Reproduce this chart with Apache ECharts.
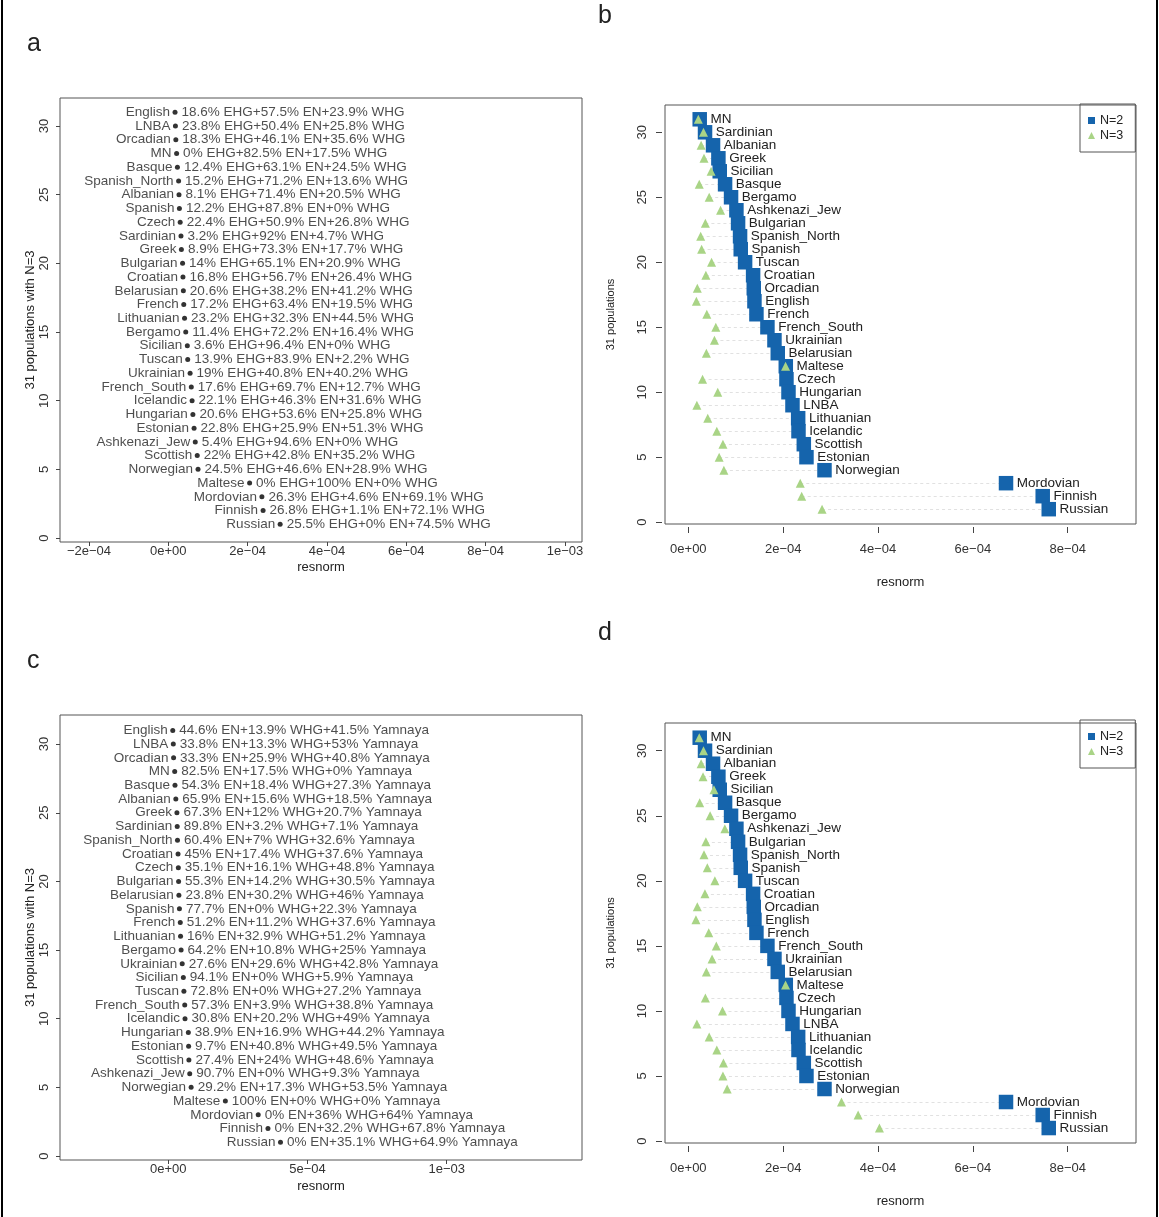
<!DOCTYPE html>
<html>
<head>
<meta charset="utf-8">
<title>resnorm</title>
<script src="https://cdn.jsdelivr.net/npm/echarts@6/dist/echarts.min.js"></script>
<style>
  html, body { margin: 0; padding: 0; background: #fff; }
  #chart { width: 1159px; height: 1217px; }
</style>
</head>
<body>
<div id="chart"></div>
<script>
// populations, order of panels b and d (top -> bottom)
const popsB = ['MN', 'Sardinian', 'Albanian', 'Greek', 'Sicilian', 'Basque', 'Bergamo', 'Ashkenazi_Jew',
  'Bulgarian', 'Spanish_North', 'Spanish', 'Tuscan', 'Croatian', 'Orcadian', 'English', 'French',
  'French_South', 'Ukrainian', 'Belarusian', 'Maltese', 'Czech', 'Hungarian', 'LNBA', 'Lithuanian',
  'Icelandic', 'Scottish', 'Estonian', 'Norwegian', 'Mordovian', 'Finnish', 'Russian'];
// resnorm with N=2 (x1e-5)
const n2 = [2.40, 3.52, 5.21, 6.34, 6.62, 7.75, 9.01, 10.14, 10.49, 10.91, 11.05, 11.97, 13.66, 13.80,
  13.94, 14.36, 16.68, 18.16, 18.86, 20.55, 20.69, 21.12, 21.96, 23.16, 23.23, 24.35, 24.91, 28.71,
  66.99, 74.73, 76.00];
// resnorm with N=3, EHG/EN/WHG (x1e-5)
const n3Ehg = [2.1, 3.2, 2.7, 3.3, 4.8, 2.3, 4.4, 6.8, 3.6, 2.6, 2.8, 4.9, 3.7, 1.9, 1.7, 3.9,
  5.8, 5.5, 3.8, 20.5, 3.0, 6.2, 1.8, 4.1, 6.0, 7.3, 6.5, 7.5, 23.6, 23.9, 28.2];
// resnorm with N=3, EN/WHG/Yamnaya (x1e-5)
const n3Yam = [2.3, 3.2, 2.7, 3.1, 5.4, 2.4, 4.6, 7.7, 3.7, 3.3, 4.0, 5.6, 3.5, 1.9, 1.6, 4.3,
  5.9, 5.0, 3.8, 20.5, 3.6, 7.2, 1.8, 4.4, 6.0, 7.4, 7.3, 8.2, 32.3, 35.8, 40.3];

// panel a
const popsA = ['English', 'LNBA', 'Orcadian', 'MN', 'Basque', 'Spanish_North', 'Albanian', 'Spanish',
  'Czech', 'Sardinian', 'Greek', 'Bulgarian', 'Croatian', 'Belarusian', 'French', 'Lithuanian',
  'Bergamo', 'Sicilian', 'Tuscan', 'Ukrainian', 'French_South', 'Icelandic', 'Hungarian', 'Estonian',
  'Ashkenazi_Jew', 'Scottish', 'Norwegian', 'Maltese', 'Mordovian', 'Finnish', 'Russian'];
const mixA = ['18.6% EHG+57.5% EN+23.9% WHG', '23.8% EHG+50.4% EN+25.8% WHG', '18.3% EHG+46.1% EN+35.6% WHG',
  '0% EHG+82.5% EN+17.5% WHG', '12.4% EHG+63.1% EN+24.5% WHG', '15.2% EHG+71.2% EN+13.6% WHG',
  '8.1% EHG+71.4% EN+20.5% WHG', '12.2% EHG+87.8% EN+0% WHG', '22.4% EHG+50.9% EN+26.8% WHG',
  '3.2% EHG+92% EN+4.7% WHG', '8.9% EHG+73.3% EN+17.7% WHG', '14% EHG+65.1% EN+20.9% WHG',
  '16.8% EHG+56.7% EN+26.4% WHG', '20.6% EHG+38.2% EN+41.2% WHG', '17.2% EHG+63.4% EN+19.5% WHG',
  '23.2% EHG+32.3% EN+44.5% WHG', '11.4% EHG+72.2% EN+16.4% WHG', '3.6% EHG+96.4% EN+0% WHG',
  '13.9% EHG+83.9% EN+2.2% WHG', '19% EHG+40.8% EN+40.2% WHG', '17.6% EHG+69.7% EN+12.7% WHG',
  '22.1% EHG+46.3% EN+31.6% WHG', '20.6% EHG+53.6% EN+25.8% WHG', '22.8% EHG+25.9% EN+51.3% WHG',
  '5.4% EHG+94.6% EN+0% WHG', '22% EHG+42.8% EN+35.2% WHG', '24.5% EHG+46.6% EN+28.9% WHG',
  '0% EHG+100% EN+0% WHG', '26.3% EHG+4.6% EN+69.1% WHG', '26.8% EHG+1.1% EN+72.1% WHG',
  '25.5% EHG+0% EN+74.5% WHG'];

// panel c
const popsC = ['English', 'LNBA', 'Orcadian', 'MN', 'Basque', 'Albanian', 'Greek', 'Sardinian',
  'Spanish_North', 'Croatian', 'Czech', 'Bulgarian', 'Belarusian', 'Spanish', 'French', 'Lithuanian',
  'Bergamo', 'Ukrainian', 'Sicilian', 'Tuscan', 'French_South', 'Icelandic', 'Hungarian', 'Estonian',
  'Scottish', 'Ashkenazi_Jew', 'Norwegian', 'Maltese', 'Mordovian', 'Finnish', 'Russian'];
const mixC = ['44.6% EN+13.9% WHG+41.5% Yamnaya', '33.8% EN+13.3% WHG+53% Yamnaya',
  '33.3% EN+25.9% WHG+40.8% Yamnaya', '82.5% EN+17.5% WHG+0% Yamnaya', '54.3% EN+18.4% WHG+27.3% Yamnaya',
  '65.9% EN+15.6% WHG+18.5% Yamnaya', '67.3% EN+12% WHG+20.7% Yamnaya', '89.8% EN+3.2% WHG+7.1% Yamnaya',
  '60.4% EN+7% WHG+32.6% Yamnaya', '45% EN+17.4% WHG+37.6% Yamnaya', '35.1% EN+16.1% WHG+48.8% Yamnaya',
  '55.3% EN+14.2% WHG+30.5% Yamnaya', '23.8% EN+30.2% WHG+46% Yamnaya', '77.7% EN+0% WHG+22.3% Yamnaya',
  '51.2% EN+11.2% WHG+37.6% Yamnaya', '16% EN+32.9% WHG+51.2% Yamnaya', '64.2% EN+10.8% WHG+25% Yamnaya',
  '27.6% EN+29.6% WHG+42.8% Yamnaya', '94.1% EN+0% WHG+5.9% Yamnaya', '72.8% EN+0% WHG+27.2% Yamnaya',
  '57.3% EN+3.9% WHG+38.8% Yamnaya', '30.8% EN+20.2% WHG+49% Yamnaya', '38.9% EN+16.9% WHG+44.2% Yamnaya',
  '9.7% EN+40.8% WHG+49.5% Yamnaya', '27.4% EN+24% WHG+48.6% Yamnaya', '90.7% EN+0% WHG+9.3% Yamnaya',
  '29.2% EN+17.3% WHG+53.5% Yamnaya', '100% EN+0% WHG+0% Yamnaya', '0% EN+36% WHG+64% Yamnaya',
  '0% EN+32.2% WHG+67.8% Yamnaya', '0% EN+35.1% WHG+64.9% Yamnaya'];

// axis ticks
const ticksA = [-2e-4, 0, 2e-4, 4e-4, 6e-4, 8e-4, 1e-3];
const tickLabelsA = ['\u22122e\u221204', '0e+00', '2e\u221204', '4e\u221204', '6e\u221204', '8e\u221204', '1e\u221203'];
const ticksB = [0, 2e-4, 4e-4, 6e-4, 8e-4];
const tickLabelsB = ['0e+00', '2e\u221204', '4e\u221204', '6e\u221204', '8e\u221204'];
const ticksC = [0, 5e-4, 1e-3];
const tickLabelsC = ['0e+00', '5e\u221204', '1e\u221203'];
const yTicks = [0, 5, 10, 15, 20, 25, 30];

const BLUE = '#1564AC';
const GREEN = '#A9D486';
const FONT = 'Liberation Sans, Arial, sans-serif';
const E5 = 1e-5;

const chart = echarts.init(document.getElementById('chart'));

function pick(ticks, labels) {
  return function (v) {
    let k = 0, best = Infinity;
    ticks.forEach(function (t, i) {
      const d = Math.abs(t - v);
      if (d < best) { best = d; k = i; }
    });
    return labels[k];
  };
}

function xAxis(idx, min, max, ticks, labels, o) {
  return {
    type: 'value', gridIndex: idx, min: min, max: max, offset: o.offset || 0,
    name: 'resnorm', nameLocation: 'middle', nameGap: o.nameGap,
    nameTextStyle: { fontSize: 13, color: '#222' },
    splitLine: { show: false },
    axisLine: { show: false, onZero: false },
    axisTick: { show: true, customValues: ticks, length: o.tick, lineStyle: { color: '#444' } },
    axisLabel: { customValues: ticks, formatter: pick(ticks, labels), margin: o.margin, fontSize: 13, color: '#333' }
  };
}

function yAxis(idx, min, max, name, o) {
  return {
    type: 'value', gridIndex: idx, min: min, max: max, offset: o.offset || 0,
    name: name, nameLocation: 'middle', nameGap: o.nameGap,
    nameTextStyle: { fontSize: o.nameSize, color: '#222' },
    splitLine: { show: false },
    axisLine: { show: false, onZero: false },
    axisTick: { show: true, customValues: yTicks, length: o.tick, lineStyle: { color: '#444' } },
    axisLabel: { customValues: yTicks, rotate: 90, margin: o.margin, fontSize: 13, color: '#333' }
  };
}

// value of a population, looked up in the panel b order
function valOf(arr, p) { return arr[popsB.indexOf(p)] * E5; }

function mixSeries(idx, pops, mix, arr) {
  const pts = pops.map(function (p, i) { return [valOf(arr, p), 31 - i, p, mix[i]]; });
  return [{
    type: 'scatter', xAxisIndex: idx, yAxisIndex: idx, symbol: 'circle', symbolSize: 5,
    itemStyle: { color: '#000' }, silent: true, data: pts,
    label: { show: true, position: 'left', distance: 2.5, fontSize: 13.5, color: '#222',
      formatter: function (d) { return d.data[2]; } }
  }, {
    type: 'scatter', xAxisIndex: idx, yAxisIndex: idx, symbol: 'circle', symbolSize: 5,
    itemStyle: { color: 'transparent' }, silent: true, data: pts,
    label: { show: true, position: 'right', distance: 4, fontSize: 13.5, color: '#222',
      formatter: function (d) { return d.data[3]; } }
  }];
}

function pairSeries(idx, arr3) {
  return [{
    type: 'lines', coordinateSystem: 'cartesian2d', xAxisIndex: idx, yAxisIndex: idx, silent: true, z: 1,
    lineStyle: { color: '#c4c4c4', width: 1, type: [3, 3] },
    data: popsB.map(function (p, i) { return { coords: [[arr3[i] * E5, 31 - i], [n2[i] * E5, 31 - i]] }; })
  }, {
    name: 'N=2', type: 'scatter', xAxisIndex: idx, yAxisIndex: idx, symbol: 'rect', symbolSize: 14.5, z: 2,
    itemStyle: { color: BLUE, opacity: 1 }, silent: true,
    data: popsB.map(function (p, i) { return [n2[i] * E5, 31 - i, p]; }),
    label: { show: true, position: 'right', distance: 3.5, fontSize: 13.5, color: '#222',
      formatter: function (d) { return d.data[2]; } }
  }, {
    name: 'N=3', type: 'scatter', xAxisIndex: idx, yAxisIndex: idx, symbol: 'triangle', symbolSize: 9, z: 3,
    itemStyle: { color: GREEN, opacity: 1 }, silent: true,
    data: popsB.map(function (p, i) { return [arr3[i] * E5, 31 - i]; })
  }];
}

function legend(top) {
  return {
    orient: 'vertical', left: 1080, top: top, itemWidth: 7, itemHeight: 7, itemGap: 2,
    padding: [10, 12, 10, 8], borderColor: '#555', borderWidth: 1, selectedMode: false,
    textStyle: { fontSize: 12.5, color: '#222' },
    data: [{ name: 'N=2', icon: 'rect' }, { name: 'N=3', icon: 'triangle' }]
  };
}

const gridStyle = { show: true, borderColor: '#555', borderWidth: 1 };

chart.setOption({
  animation: false,
  textStyle: { fontFamily: FONT },
  grid: [
    Object.assign({ left: 60, top: 98, width: 522, height: 444 }, gridStyle),
    Object.assign({ left: 665, top: 105, width: 471, height: 419 }, gridStyle),
    Object.assign({ left: 60, top: 715, width: 522, height: 445 }, gridStyle),
    Object.assign({ left: 665, top: 723, width: 471, height: 420 }, gridStyle)
  ],
  legend: [legend(104), legend(720)],
  xAxis: [
    xAxis(0, -2.73e-4, 1.043e-3, ticksA, tickLabelsA, { tick: 4, margin: 3, nameGap: 19 }),
    xAxis(1, -4.92e-5, 9.44e-4, ticksB, tickLabelsB, { tick: 6, margin: 16, nameGap: 49, offset: 3 }),
    xAxis(2, -3.89e-4, 1.486e-3, ticksC, tickLabelsC, { tick: 4, margin: 3, nameGap: 20 }),
    xAxis(3, -4.92e-5, 9.44e-4, ticksB, tickLabelsB, { tick: 6, margin: 16, nameGap: 49, offset: 3 })
  ],
  yAxis: [
    yAxis(0, -0.29, 32.04, '31 populations with N=3', { tick: 4, margin: 9, nameGap: 21, nameSize: 13 }),
    yAxis(1, -0.14, 32.1, '31 populations', { tick: 6, margin: 13, nameGap: 46, nameSize: 11, offset: 3 }),
    yAxis(2, -0.29, 32.12, '31 populations with N=3', { tick: 4, margin: 9, nameGap: 21, nameSize: 13 }),
    yAxis(3, -0.15, 32.13, '31 populations', { tick: 6, margin: 13, nameGap: 46, nameSize: 11, offset: 3 })
  ],
  series: []
    .concat(mixSeries(0, popsA, mixA, n3Ehg))
    .concat(pairSeries(1, n3Ehg))
    .concat(mixSeries(2, popsC, mixC, n3Yam))
    .concat(pairSeries(3, n3Yam)),
  graphic: [
    { type: 'line', silent: true, shape: { x1: 2, y1: 0, x2: 2, y2: 1217 }, style: { stroke: '#000', lineWidth: 2 } },
    { type: 'line', silent: true, shape: { x1: 1157, y1: 0, x2: 1157, y2: 1217 }, style: { stroke: '#000', lineWidth: 2 } },
    { type: 'text', left: 27, top: 32, style: { text: 'a', fontSize: 25, fill: '#222', fontFamily: FONT } },
    { type: 'text', left: 598, top: 4, style: { text: 'b', fontSize: 25, fill: '#222', fontFamily: FONT } },
    { type: 'text', left: 27, top: 649, style: { text: 'c', fontSize: 25, fill: '#222', fontFamily: FONT } },
    { type: 'text', left: 598, top: 621, style: { text: 'd', fontSize: 25, fill: '#222', fontFamily: FONT } }
  ]
});
</script>
</body>
</html>
